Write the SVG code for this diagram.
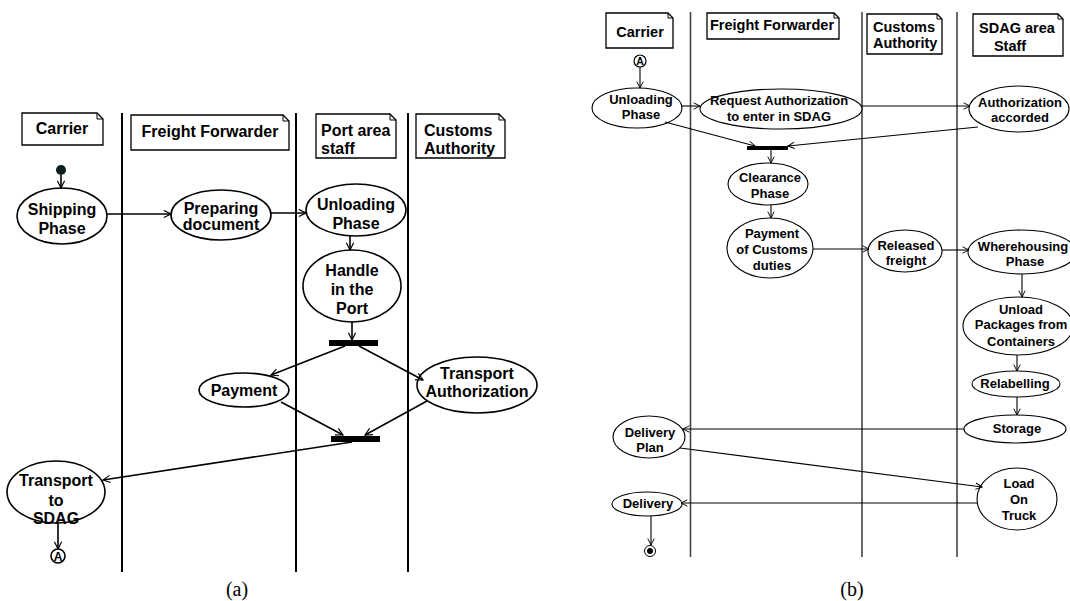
<svg xmlns="http://www.w3.org/2000/svg" width="1070" height="601" viewBox="0 0 1070 601">
<defs>
<marker id="arr" viewBox="0 0 10 10" refX="9" refY="5" markerWidth="9" markerHeight="9" markerUnits="userSpaceOnUse" orient="auto">
<path d="M1,1 L9,5 L1,9" fill="none" stroke="#000" stroke-width="1.3"/>
</marker>
<marker id="arrb" viewBox="0 0 10 10" refX="9" refY="5" markerWidth="8" markerHeight="8" markerUnits="userSpaceOnUse" orient="auto">
<path d="M1,1 L9,5 L1,9" fill="none" stroke="#000" stroke-width="1.2"/>
</marker>
</defs>
<style>
.lane{stroke:#000;stroke-width:2;fill:none}
.laneb{stroke:#444;stroke-width:1.6;fill:none}
.hdr{fill:#fff;stroke:#000;stroke-width:1.3}
.fold{fill:none;stroke:#000;stroke-width:1}
.na{fill:#fff;stroke:#000;stroke-width:1.6}
.nb{fill:#fff;stroke:#000;stroke-width:1.1}
.ta{font-family:"Liberation Sans",Arial,sans-serif;font-weight:bold;font-size:16px;fill:#000;text-anchor:middle}
.tha{font-family:"Liberation Sans",Arial,sans-serif;font-weight:bold;font-size:16px;fill:#000}
.thb{font-family:"Liberation Sans",Arial,sans-serif;font-weight:bold;font-size:14.5px;fill:#000}
.tb{font-family:"Liberation Sans",Arial,sans-serif;font-weight:bold;font-size:13px;fill:#000;text-anchor:middle}
.ea{stroke:#000;stroke-width:1.6;fill:none;marker-end:url(#arr)}
.eb{stroke:#000;stroke-width:1.1;fill:none;marker-end:url(#arrb)}
.bar{fill:#000}
.cap{font-family:"Liberation Serif","Times New Roman",serif;font-size:20px;fill:#000;text-anchor:middle}
</style>

<!-- ===== Panel (a) ===== -->
<g id="lanes-a">
<line class="lane" x1="122" y1="113" x2="122" y2="572"/>
<line class="lane" x1="296" y1="113" x2="296" y2="572"/>
<line class="lane" x1="408" y1="113" x2="408" y2="572"/>
</g>

<g id="a-hdr-carrier">
<path class="hdr" d="M22,113 H97 L103,119 V145 H22 Z"/><path class="fold" d="M97,113 V119 H103"/>
<text class="ta" x="62" y="134">Carrier</text>
</g>
<g id="a-hdr-ff">
<path class="hdr" d="M131,115 H283 L289,121 V150 H131 Z"/><path class="fold" d="M283,115 V121 H289"/>
<text class="ta" x="210" y="137">Freight Forwarder</text>
</g>
<g id="a-hdr-port">
<path class="hdr" d="M316,114 H390 L396,120 V158 H316 Z"/><path class="fold" d="M390,114 V120 H396"/>
<text class="tha" x="321" y="136">Port area</text>
<text class="tha" x="321" y="154">staff</text>
</g>
<g id="a-hdr-customs">
<path class="hdr" d="M416,114 H499 L505,120 V158 H416 Z"/><path class="fold" d="M499,114 V120 H505"/>
<text class="tha" x="424" y="136">Customs</text>
<text class="tha" x="424" y="154">Authority</text>
</g>

<g id="a-start"><circle cx="61" cy="170" r="5" fill="#061e1e"/></g>
<g id="a-shipping">
<ellipse class="na" cx="62" cy="216" rx="45" ry="28"/>
<text class="ta" x="62" y="215">Shipping</text><text class="ta" x="62" y="234">Phase</text>
</g>
<g id="a-preparing">
<ellipse class="na" cx="221" cy="215" rx="50" ry="25"/>
<text class="ta" x="221" y="214">Preparing</text><text class="ta" x="221" y="230">document</text>
</g>
<g id="a-unloading">
<ellipse class="na" cx="356" cy="210" rx="50" ry="26"/>
<text class="ta" x="356" y="210">Unloading</text><text class="ta" x="356" y="229">Phase</text>
</g>
<g id="a-handle">
<ellipse class="na" cx="352" cy="286" rx="49" ry="36"/>
<text class="ta" x="352" y="276">Handle</text><text class="ta" x="352" y="295">in the</text><text class="ta" x="352" y="314">Port</text>
</g>
<g id="a-fork"><rect class="bar" x="329" y="340" width="49" height="6"/></g>
<g id="a-payment">
<ellipse class="na" cx="244" cy="390" rx="45" ry="17"/>
<text class="ta" x="244" y="396">Payment</text>
</g>
<g id="a-transport-auth">
<ellipse class="na" cx="477" cy="385" rx="60" ry="28"/>
<text class="ta" x="477" y="379">Transport</text><text class="ta" x="477" y="397">Authorization</text>
</g>
<g id="a-join"><rect class="bar" x="331" y="436" width="49" height="6"/></g>
<g id="a-transport-sdag">
<ellipse class="na" cx="56" cy="492" rx="49" ry="31"/>
<text class="ta" x="56" y="486">Transport</text><text class="ta" x="56" y="506">to</text><text class="ta" x="56" y="524">SDAG</text>
</g>
<g id="a-conn-A">
<circle cx="58" cy="556" r="7" fill="#fff" stroke="#000" stroke-width="1.6"/>
<text x="58" y="560.5" font-family="Liberation Sans, Arial, sans-serif" font-weight="bold" font-size="12" text-anchor="middle">A</text>
</g>

<g id="edges-a">
<line class="ea" x1="61" y1="175" x2="61" y2="188"/>
<line class="ea" x1="107" y1="214" x2="171" y2="214"/>
<line class="ea" x1="271" y1="213" x2="306" y2="213"/>
<line class="ea" x1="350" y1="236" x2="350" y2="250"/>
<line class="ea" x1="352" y1="322" x2="352" y2="340"/>
<line class="ea" x1="345" y1="346" x2="271" y2="375"/>
<line class="ea" x1="359" y1="346" x2="423" y2="380"/>
<line class="ea" x1="281" y1="402" x2="343" y2="435"/>
<line class="ea" x1="427" y1="401" x2="365" y2="435"/>
<line class="ea" x1="352" y1="442" x2="103" y2="480"/>
<line class="ea" x1="58" y1="523" x2="58" y2="549"/>
</g>

<text class="cap" x="237" y="596">(a)</text>

<!-- ===== Panel (b) ===== -->
<g id="lanes-b">
<line class="laneb" x1="690.5" y1="12" x2="690.5" y2="557"/>
<line class="laneb" x1="862" y1="12" x2="862" y2="557"/>
<line class="laneb" x1="957" y1="12" x2="957" y2="557"/>
</g>

<g id="b-hdr-carrier">
<path class="hdr" d="M606,13 H668 L673,18 V48 H606 Z"/><path class="fold" d="M668,13 V18 H673"/>
<text class="thb" x="640" y="37" text-anchor="middle">Carrier</text>
</g>
<g id="b-hdr-ff">
<path class="hdr" d="M707,13 H834 L839,18 V39 H707 Z"/><path class="fold" d="M834,13 V18 H839"/>
<text class="thb" x="710" y="30">Freight Forwarder</text>
</g>
<g id="b-hdr-customs">
<path class="hdr" d="M867,14 H937 L942,19 V54 H867 Z"/><path class="fold" d="M937,14 V19 H942"/>
<text class="thb" x="873" y="32">Customs</text>
<text class="thb" x="873" y="48">Authority</text>
</g>
<g id="b-hdr-sdag">
<path class="hdr" d="M973,14 H1058 L1063,19 V56 H973 Z"/><path class="fold" d="M1058,14 V19 H1063"/>
<text class="thb" x="1017" y="33" text-anchor="middle">SDAG area</text>
<text class="thb" x="1010" y="51" text-anchor="middle">Staff</text>
</g>

<g id="b-conn-A">
<circle cx="640" cy="61" r="6" fill="#fff" stroke="#000" stroke-width="1.2"/>
<text x="640" y="65" font-family="Liberation Sans, Arial, sans-serif" font-weight="bold" font-size="10.5" text-anchor="middle">A</text>
</g>
<g id="b-unloading">
<ellipse class="nb" cx="637" cy="108" rx="45" ry="20"/>
<text class="tb" x="641" y="104">Unloading</text><text class="tb" x="641" y="119">Phase</text>
</g>
<g id="b-request">
<ellipse class="nb" cx="781" cy="109" rx="81" ry="20"/>
<text class="tb" x="779" y="105">Request Authorization</text><text class="tb" x="779" y="121">to enter in SDAG</text>
</g>
<g id="b-auth-accorded">
<ellipse class="nb" cx="1019" cy="109" rx="50" ry="23"/>
<text class="tb" x="1020" y="107">Authorization</text><text class="tb" x="1020" y="122">accorded</text>
</g>
<g id="b-sync"><rect class="bar" x="747" y="146" width="41" height="4"/></g>
<g id="b-clearance">
<ellipse class="nb" cx="768" cy="184" rx="40" ry="21"/>
<text class="tb" x="770" y="182">Clearance</text><text class="tb" x="770" y="198">Phase</text>
</g>
<g id="b-payment">
<ellipse class="nb" cx="770" cy="248" rx="43" ry="30"/>
<text class="tb" x="772" y="238">Payment</text><text class="tb" x="772" y="254">of Customs</text><text class="tb" x="772" y="270">duties</text>
</g>
<g id="b-released">
<ellipse class="nb" cx="905" cy="251" rx="37" ry="21"/>
<text class="tb" x="906" y="250">Released</text><text class="tb" x="906" y="265">freight</text>
</g>
<g id="b-warehousing">
<ellipse class="nb" cx="1022" cy="252" rx="54" ry="22"/>
<text class="tb" x="1023" y="251">Wherehousing</text><text class="tb" x="1025" y="266">Phase</text>
</g>
<g id="b-unload">
<ellipse class="nb" cx="1018" cy="326" rx="55" ry="29"/>
<text class="tb" x="1021" y="314">Unload</text><text class="tb" x="1021" y="329">Packages from</text><text class="tb" x="1021" y="346">Containers</text>
</g>
<g id="b-relabelling">
<ellipse class="nb" cx="1016" cy="384" rx="44" ry="13"/>
<text class="tb" x="1015" y="388">Relabelling</text>
</g>
<g id="b-storage">
<ellipse class="nb" cx="1015" cy="429" rx="51" ry="14"/>
<text class="tb" x="1017" y="433">Storage</text>
</g>
<g id="b-delivery-plan">
<ellipse class="nb" cx="649" cy="437" rx="36" ry="21"/>
<text class="tb" x="650" y="437">Delivery</text><text class="tb" x="650" y="452">Plan</text>
</g>
<g id="b-load">
<ellipse class="nb" cx="1017" cy="499" rx="40" ry="31"/>
<text class="tb" x="1019" y="488">Load</text><text class="tb" x="1019" y="504">On</text><text class="tb" x="1019" y="520">Truck</text>
</g>
<g id="b-delivery">
<ellipse class="nb" cx="647" cy="504" rx="35" ry="12"/>
<text class="tb" x="648" y="508">Delivery</text>
</g>
<g id="b-end">
<circle cx="650" cy="551" r="5.5" fill="#fff" stroke="#000" stroke-width="1"/>
<circle cx="650" cy="551" r="3" fill="#000"/>
</g>

<g id="edges-b">
<line class="eb" x1="640" y1="67" x2="640" y2="88"/>
<line class="eb" x1="681" y1="106" x2="700" y2="106"/>
<line class="eb" x1="862" y1="106" x2="970" y2="106"/>
<line class="eb" x1="665" y1="122" x2="755" y2="146"/>
<line class="eb" x1="978" y1="127" x2="788" y2="146"/>
<line class="eb" x1="771" y1="150" x2="771" y2="163"/>
<line class="eb" x1="771" y1="205" x2="771" y2="218"/>
<line class="eb" x1="813" y1="249" x2="869" y2="249"/>
<line class="eb" x1="942" y1="250" x2="969" y2="250"/>
<line class="eb" x1="1022" y1="274" x2="1022" y2="297"/>
<line class="eb" x1="1017" y1="355" x2="1017" y2="371"/>
<line class="eb" x1="1017" y1="397" x2="1017" y2="415"/>
<line class="eb" x1="964" y1="429" x2="683" y2="429"/>
<line class="eb" x1="680" y1="448" x2="982" y2="487"/>
<line class="eb" x1="977" y1="503" x2="681" y2="503"/>
<line class="eb" x1="651" y1="516" x2="651" y2="545"/>
</g>

<text class="cap" x="852" y="596">(b)</text>
</svg>
